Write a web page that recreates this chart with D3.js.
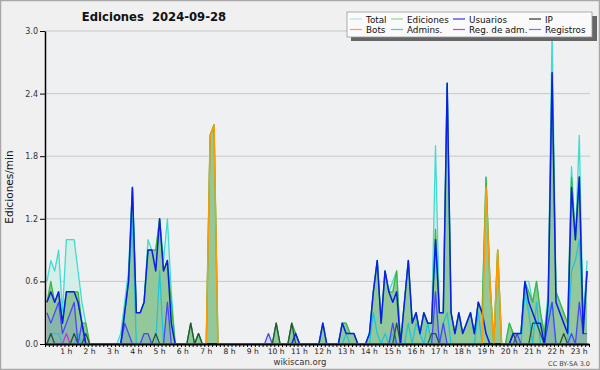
<!DOCTYPE html>
<html><head><meta charset="utf-8">
<script src="https://cdn.jsdelivr.net/npm/d3@7"></script>
<style>body{margin:0;background:#f0f0f0}svg{display:block}</style>
</head><body>
<svg id="c" width="600" height="370"></svg>
<script>
// 10-minute intervals from 00:00 to 23:20 (140 points), values in edits/min
const hourLabels = ["1 h","2 h","3 h","4 h","5 h","6 h","7 h","8 h","9 h","10 h","11 h","12 h","13 h","14 h","15 h","16 h","17 h","18 h","19 h","20 h","21 h","22 h","23 h"];
const yTicks = [0, 0.6, 1.2, 1.8, 2.4, 3.0];
const seriesNames = ["Total","Ediciones","Usuarios","IP","Bots","Admins.","Reg. de adm.","Registros"];
const total = [
 0.6,0.8,0.7,0.9,0.3,1.0, 1.0,1.0,0.7,0.4,0.2,0, 0,0,0,0,0,0,
 0,0.1,0.4,0.7,1.5,0.3, 0.3,0.4,1.0,0.9,0.9,1.2, 0.8,1.2,0.5,0,0,0,
 0,0.2,0,0.1,0,0, 2.0,2.1,0,0,0,0, 0,0,0,0,0,0,
 0,0,0,0,0,0.2, 0,0,0,0.2,0.1,0, 0,0,0,0,0,0.2,
 0,0,0,0,0.2,0.2, 0.1,0.1,0,0,0,0.1, 0.5,0.8,0.2,0.7,0.5,0.6,
 0.7,0,0.4,0.8,0.2,0.3, 0.1,0.3,0.2,0.2,1.9,0.3, 0.3,2.5,0.3,0.1,0.3,0.1,
 0.2,0.3,0.1,0.4,0.3,1.6, 0.6,0,0.9,0,0,0.2, 0.1,0.1,0.1,0.6,0.6,0.4,
 0.6,0.3,0.1,0.5,3.0,0.5, 0.4,0.3,0.2,1.7,1.0,2.0, 0.2,0.8];
const ediciones = [
 0.4,0.6,0.4,0.5,0.2,0.5, 0.5,0.5,0.5,0.2,0.2,0, 0,0,0,0,0,0,
 0,0,0.3,0.6,1.5,0.3, 0.3,0.4,0.9,0.9,0.9,1.2, 0.7,0.8,0.4,0,0,0,
 0,0.2,0,0.1,0,0, 2.0,2.1,0,0,0,0, 0,0,0,0,0,0,
 0,0,0,0,0,0.2, 0,0,0,0.2,0.1,0, 0,0,0,0,0,0.2,
 0,0,0,0,0.2,0.2, 0.1,0.1,0,0,0,0.1, 0.5,0.8,0.2,0.7,0.5,0.5,
 0.7,0,0.4,0.8,0.2,0.3, 0.1,0.3,0.2,0.2,1.1,0.3, 0.3,2.5,0.3,0.1,0.3,0.1,
 0.2,0.3,0.1,0.4,0.3,1.6, 0.6,0,0.9,0,0,0.2, 0.1,0.1,0.1,0.6,0.5,0.4,
 0.6,0.3,0.1,0.4,2.6,0.5, 0.4,0.3,0.2,1.6,1.0,1.6, 0.2,0.7];
const usuarios = [
 0.4,0.5,0.4,0.5,0.2,0.5, 0.5,0.5,0.4,0.2,0,0, 0,0,0,0,0,0,
 0,0,0.3,0.6,1.5,0.3, 0.3,0.4,0.9,0.9,0.7,1.2, 0.7,0.8,0.2,0,0,0,
 0,0,0,0,0,0, 0,0,0,0,0,0, 0,0,0,0,0,0,
 0,0,0,0,0,0, 0,0,0,0,0.1,0, 0,0,0,0,0,0.2,
 0,0,0,0,0.2,0.1, 0.1,0.1,0,0,0,0.1, 0.5,0.8,0.2,0.7,0.5,0.4,
 0.5,0,0.4,0.8,0.2,0.3, 0.1,0.3,0.2,0.2,1.0,0.3, 0.3,2.5,0.3,0.1,0.3,0.1,
 0.2,0.3,0.1,0.4,0.3,0.1, 0,0,0,0,0,0, 0.1,0.1,0.1,0.6,0.4,0.3,
 0.2,0.2,0,0.4,2.6,0.4, 0.3,0.2,0.1,1.5,1.0,1.6, 0.1,0.7];
const ip = [
 0,0.1,0,0,0,0, 0,0.1,0,0,0.1,0, 0,0,0,0,0,0,
 0,0,0,0,0,0, 0,0,0,0,0.1,0, 0,0,0,0,0,0,
 0,0.2,0,0.1,0,0, 0,0,0,0,0,0, 0,0,0,0,0,0,
 0,0,0,0,0,0.2, 0,0,0,0.2,0,0, 0,0,0,0,0,0,
 0,0,0,0,0,0, 0,0,0,0,0,0, 0,0,0,0,0,0,
 0.2,0,0,0,0,0, 0,0,0,0.1,0.1,0, 0,0,0,0,0,0,
 0,0,0,0,0,0, 0,0,0,0,0,0, 0.1,0,0,0,0,0.2,
 0.2,0.1,0,0,0,0, 0,0.1,0,0,0,0, 0,0];
const bots = [
 0,0,0,0,0,0, 0,0,0,0,0,0, 0,0,0,0,0,0,
 0,0,0,0,0,0, 0,0,0,0,0,0, 0,0,0,0,0,0,
 0,0,0,0,0,0, 2.0,2.1,0,0,0,0, 0,0,0,0,0,0,
 0,0,0,0,0,0, 0,0,0,0,0,0, 0,0,0,0,0,0,
 0,0,0,0,0,0, 0,0,0,0,0,0, 0,0,0,0,0,0,
 0,0,0,0,0,0, 0,0,0,0,0,0, 0,0,0,0,0,0,
 0,0,0,0,0,1.5, 0.6,0,0.9,0,0,0, 0,0,0,0,0,0,
 0,0,0,0,0,0, 0,0,0,0,0,0, 0,0];
const admins = [
 0,0.1,0.1,0.1,0,0, 0,0,0.1,0,0,0, 0,0,0,0,0,0,
 0,0,0.3,0.6,1.2,0, 0,0,0,0,0,0.7, 0,0,0,0,0,0,
 0,0,0,0,0,0, 0,0,0,0,0,0, 0,0,0,0,0,0,
 0,0,0,0,0,0, 0,0,0,0,0,0, 0,0,0,0,0,0,
 0,0,0,0,0,0.1, 0,0,0,0,0,0, 0.3,0.1,0,0.1,0,0.1,
 0,0,0,0.2,0,0.2, 0.1,0,0.2,0,0,0, 0.2,0.3,0,0,0,0,
 0,0,0,0.3,0,0, 0,0,0,0,0,0, 0,0,0,0.5,0.3,0,
 0.4,0,0,0.3,0.4,0, 0,0,0,0.7,0.8,1.0, 0.2,0.7];
const regAdm = [
 0,0,0,0,0,0.1, 0,0,0,0,0,0, 0,0,0,0,0,0,
 0,0,0,0,0,0, 0,0,0,0,0,0, 0,0,0,0,0,0,
 0,0,0,0,0,0, 0,0,0,0,0,0, 0,0,0,0,0,0,
 0,0,0,0,0,0, 0,0,0,0,0,0, 0,0,0,0,0,0,
 0,0,0,0,0,0, 0,0,0,0,0,0, 0,0,0,0,0,0,
 0,0,0,0,0,0, 0,0,0,0,0,0, 0,0,0,0,0,0,
 0,0,0,0,0,0, 0,0,0,0,0,0, 0,0,0,0,0,0,
 0,0,0,0,0,0, 0,0,0,0,0,0, 0,0];
const registros = [
 0.3,0.2,0.3,0.4,0.1,0.2, 0.3,0.4,0,0.2,0,0, 0,0,0,0,0,0,
 0,0,0.2,0.1,0,0, 0,0.1,0.1,0,0,0, 0,0.4,0,0,0,0,
 0,0,0,0,0,0, 0,0,0,0,0,0, 0,0,0,0,0,0,
 0,0,0,0.1,0,0, 0,0,0,0,0,0, 0,0,0,0,0,0,
 0,0,0,0,0,0, 0,0,0,0,0,0, 0,0,0,0,0,0.2,
 0,0,0,0,0,0, 0,0,0,0,0.5,0, 0.2,0,0,0,0,0,
 0,0,0,0,0,0, 0,0,0,0,0,0, 0,0.1,0,0,0,0,
 0,0,0,0.2,0.4,0, 0,0,0,0.1,0,0.4, 0.1,0.1];

const svg = d3.select("#c");
const L = 45, R = 589, T = 31, B = 344;
const x = d3.scaleLinear().domain([0, 140]).range([L, R]);
const y = d3.scaleLinear().domain([0, 3]).range([B, T]);

// outer background + border
svg.append("rect").attr("x",0.5).attr("y",0.5).attr("width",599).attr("height",369)
  .attr("fill","#f0f0f0").attr("stroke","#a8a8a8").attr("stroke-width",1.5);
// plot background
svg.append("rect").attr("x",L).attr("y",T).attr("width",590-L).attr("height",B-T).attr("fill","#eef0f2");

// gridlines
svg.append("g").selectAll("line").data(yTicks.slice(1)).join("line")
  .attr("x1",L).attr("x2",590).attr("y1",d=>y(d)).attr("y2",d=>y(d))
  .attr("stroke","#c8c8c8").attr("stroke-width",1);

svg.append("defs").append("clipPath").attr("id","clip")
  .append("rect").attr("x",L).attr("y",T-2).attr("width",590-L).attr("height",B-T+2);
const g = svg.append("g").attr("clip-path","url(#clip)");

const px = (d,i) => x(i + 0.5);
const area = d3.area().x(px).y0(y(0)).y1(d=>y(d));
const line = d3.line().x(px).y(d=>y(d));

g.append("path").datum(total).attr("d",area).attr("fill","#d4efe9");
g.append("path").datum(ediciones).attr("d",area).attr("fill","#93c89a");
g.append("path").datum(registros).attr("d",area).attr("fill","#5050ff").attr("fill-opacity",0.15);

const lines = [
  [total, "#40dcd0", 1.3],
  [ediciones, "#3cb83c", 1.3],
  [admins, "#22c4dd", 1.3],
  [registros, "#4848f8", 1.3],
  [regAdm, "#cc33dd", 1.3],
  [ip, "#2f4f3a", 1.3],
  [usuarios, "#0a1ee8", 1.5],
  [bots, "#ff9a00", 1.5]
];
lines.forEach(([data,col,w]) => {
  g.append("path").datum(data).attr("d",line).attr("fill","none")
   .attr("stroke",col).attr("stroke-width",w).attr("stroke-linejoin","round");
});

// axes
const yAxis = d3.axisLeft(y).tickValues(yTicks).tickFormat(d3.format(".1f")).tickSize(5).tickSizeOuter(0);
const ya = svg.append("g").attr("transform",`translate(${L},0)`).call(yAxis);
ya.select(".domain").attr("stroke","#000").attr("stroke-width",1.5);
ya.selectAll("text").attr("font-family","DejaVu Sans").attr("font-size",8).attr("fill","#333").attr("dx",1);

const xAxis = d3.axisBottom(x).tickValues(d3.range(0, 141)).tickSize(3).tickSizeOuter(0).tickFormat("");
const xa = svg.append("g").attr("transform",`translate(0,${B})`).call(xAxis);
xa.select(".domain").attr("stroke","#000").attr("stroke-width",2);
xa.selectAll(".tick line").attr("stroke","#000").attr("stroke-width",1);

svg.append("g").selectAll("text").data(hourLabels).join("text")
  .attr("x",(d,i)=>x((i+1)*6)-2).attr("y",354).attr("text-anchor","middle")
  .attr("font-family","DejaVu Sans").attr("font-size",7.6).attr("fill","#222").text(d=>d);

// title
svg.append("text").attr("x",154).attr("y",21).attr("text-anchor","middle")
  .attr("font-family","DejaVu Sans").attr("font-weight","bold").attr("font-size",11.6)
  .attr("fill","#111").text("Ediciones  2024-09-28").style("white-space","pre");

// y label
svg.append("text").attr("transform","translate(13,187) rotate(-90)").attr("text-anchor","middle")
  .attr("font-family","DejaVu Sans").attr("font-size",10.5).attr("fill","#111").text("Ediciones/min");

// footer
svg.append("text").attr("x",300).attr("y",365).attr("text-anchor","middle")
  .attr("font-family","DejaVu Sans").attr("font-size",8.5).attr("fill","#333").text("wikiscan.org");
svg.append("text").attr("x",590).attr("y",366).attr("text-anchor","end")
  .attr("font-family","DejaVu Sans").attr("font-size",6.5).attr("fill","#444").text("CC BY-SA 3.0");

// legend
const leg = svg.append("g");
leg.append("rect").attr("x",351).attr("y",16).attr("width",246).attr("height",25).attr("fill","#666");
leg.append("rect").attr("x",347).attr("y",12).attr("width",245).attr("height",25)
  .attr("fill","#fafafa").attr("stroke","#999").attr("stroke-width",0.8);
const legColors = ["#a8e8e0","#90d890","#3838dd","#333333","#ffa040","#44ccdd","#d040e0","#7474ff"];
const colX = [350, 391, 453, 529];
seriesNames.forEach((n,i) => {
  const c = i % 4, r = Math.floor(i / 4);
  const ly = 19 + r * 10.5;
  leg.append("line").attr("x1",colX[c]).attr("x2",colX[c]+12).attr("y1",ly).attr("y2",ly)
    .attr("stroke",legColors[i]).attr("stroke-width",1.2);
  leg.append("text").attr("x",colX[c]+16).attr("y",ly+3.5)
    .attr("font-family","DejaVu Sans").attr("font-size",8.8).attr("fill","#111").text(n);
});
</script>
</body></html>
